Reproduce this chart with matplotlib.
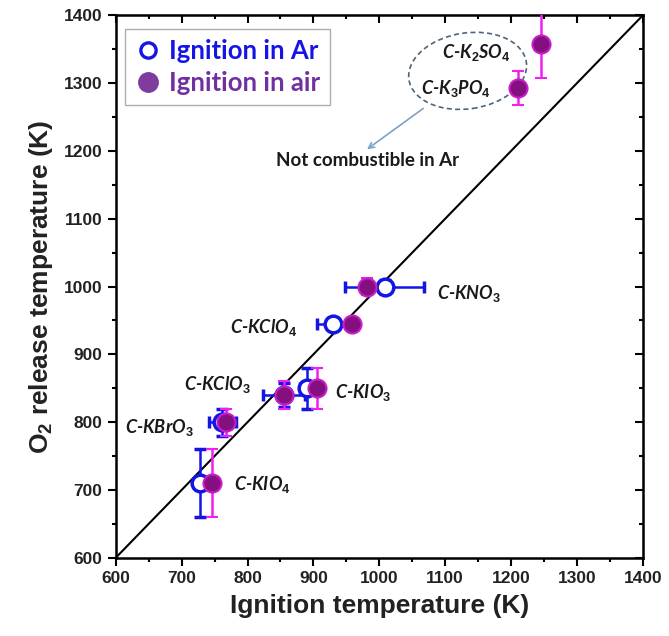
import numpy as np
import matplotlib.pyplot as plt
from matplotlib.patches import Ellipse
from matplotlib.lines import Line2D
from matplotlib.ticker import MultipleLocator

plt.rcParams["mathtext.fontset"] = "custom"
plt.rcParams["mathtext.it"] = "Lato:bold:italic"
plt.rcParams["mathtext.rm"] = "Liberation Sans:bold"

# ignition in Ar (open blue circles)
ar_x = [1008, 929, 855, 890, 762, 728]
ar_y = [1000, 945, 840, 850, 800, 710]
ar_xerr = [60, 23, 32, 10, 20, 8]
ar_yerr = [10, 8, 18, 30, 20, 50]

# ignition in air (filled purple circles)
air_x = [982, 958, 855, 906, 767, 746, 1210, 1245]
air_y = [1000, 945, 840, 850, 800, 710, 1293, 1358]
air_xerr = [8, 8, 10, 8, 8, 6, 6, 6]
air_yerr = [12, 8, 20, 30, 20, 50, 25, 50]

labels = ["C-KNO$_\\mathit{3}$", "C-KClO$_\\mathit{4}$", "C-KClO$_\\mathit{3}$",
          "C-KIO$_\\mathit{3}$", "C-KBrO$_\\mathit{3}$", "C-KIO$_\\mathit{4}$",
          "C-K$_\\mathit{3}$PO$_\\mathit{4}$", "C-K$_\\mathit{2}$SO$_\\mathit{4}$"]
label_x = [1087, 773, 703, 932, 614, 779, 1064, 1095]
label_y = [990, 939, 855, 843, 792, 708, 1292, 1345]

fig = plt.figure(figsize=(6.69, 6.36), dpi=100)
ax = fig.add_axes([0.173, 0.123, 0.788, 0.853])

ax.plot([600, 1400], [600, 1400], color="black", lw=1.5, zorder=1)

ax.errorbar(ar_x, ar_y, xerr=ar_xerr, yerr=ar_yerr, fmt="o", ms=12, mfc="white",
            mec="#1414e6", mew=2.5, ecolor="#1414e6", elinewidth=1.8, capsize=4,
            capthick=1.8, zorder=3)
ax.errorbar(air_x, air_y, xerr=air_xerr, yerr=air_yerr, fmt="o", ms=13, mfc="#84107f",
            mec="#c81ec8", mew=1.5, ecolor="#f020f0", elinewidth=1.8, capsize=4,
            capthick=1.8, zorder=4)

for t, x, y in zip(labels, label_x, label_y):
    ax.text(x, y, t, fontsize=13, fontweight="bold", style="italic",
            family="Lato", va="center", ha="left", color="#1a1a1a")

ax.add_patch(Ellipse((1134, 1318), 180, 112, angle=8, fill=False, ls=(0, (3, 2)),
                     ec="#4d6478", lw=1.2, zorder=2))
ax.annotate("", xy=(978, 1200), xytext=(1070, 1265),
            arrowprops=dict(arrowstyle="->", color="#7ca2c8", lw=1.2))
ax.text(843, 1186, "Not combustible in Ar", fontsize=13.5, fontweight="bold",
        family="Lato", va="center", ha="left", color="#1a1a1a")

ax.set_xlim(600, 1400)
ax.set_ylim(600, 1400)
ax.xaxis.set_major_locator(MultipleLocator(100))
ax.yaxis.set_major_locator(MultipleLocator(100))
ax.xaxis.set_minor_locator(MultipleLocator(50))
ax.yaxis.set_minor_locator(MultipleLocator(50))
ax.tick_params(which="both", direction="out", top=False, right=False, width=1.5)
ax.tick_params(which="major", length=6)
ax.tick_params(which="minor", length=3)
for lab in ax.get_xticklabels() + ax.get_yticklabels():
    lab.set_family("Liberation Sans")
    lab.set_fontweight("bold")
    lab.set_fontsize(12.5)
    lab.set_color("#222222")

# inward ticks on top and right
sec_x = ax.secondary_xaxis("top")
sec_x.xaxis.set_major_locator(MultipleLocator(100))
sec_x.xaxis.set_minor_locator(MultipleLocator(50))
sec_x.tick_params(which="both", direction="in", labeltop=False, width=1.5)
sec_x.tick_params(which="major", length=6)
sec_x.tick_params(which="minor", length=3)
sec_y = ax.secondary_yaxis("right")
sec_y.yaxis.set_major_locator(MultipleLocator(100))
sec_y.yaxis.set_minor_locator(MultipleLocator(50))
sec_y.tick_params(which="both", direction="in", labelright=False, width=1.5)
sec_y.tick_params(which="major", length=6)
sec_y.tick_params(which="minor", length=3)

for s in ax.spines.values():
    s.set_linewidth(1.8)

ax.set_xlabel("Ignition temperature (K)", fontsize=19, fontweight="bold",
              family="Liberation Sans", color="#222222", labelpad=6)
ax.set_ylabel("O$_\\mathrm{2}$ release temperature (K)", fontsize=19, fontweight="bold",
              family="Liberation Sans", color="#222222", labelpad=6)

handles = [
    Line2D([], [], ls="none", marker="o", ms=11, mfc="white", mec="#1414e6", mew=2.4),
    Line2D([], [], ls="none", marker="o", ms=14, mfc="#7e3c9c", mec="#7e3c9c"),
]
leg = ax.legend(handles, ["Ignition in Ar", "Ignition in air"], loc="upper left",
                bbox_to_anchor=(0.018, 0.975), fancybox=False, edgecolor="#999999",
                prop=dict(family="Lato", weight="bold", size=18.5), handletextpad=0.3,
                handlelength=1.0, borderpad=0.4, labelspacing=0.3, borderaxespad=0)
leg.get_texts()[0].set_color("#1414e6")
leg.get_texts()[1].set_color("#7030a0")
leg.get_frame().set_linewidth(1.0)

fig.savefig("out.png", dpi=100)
